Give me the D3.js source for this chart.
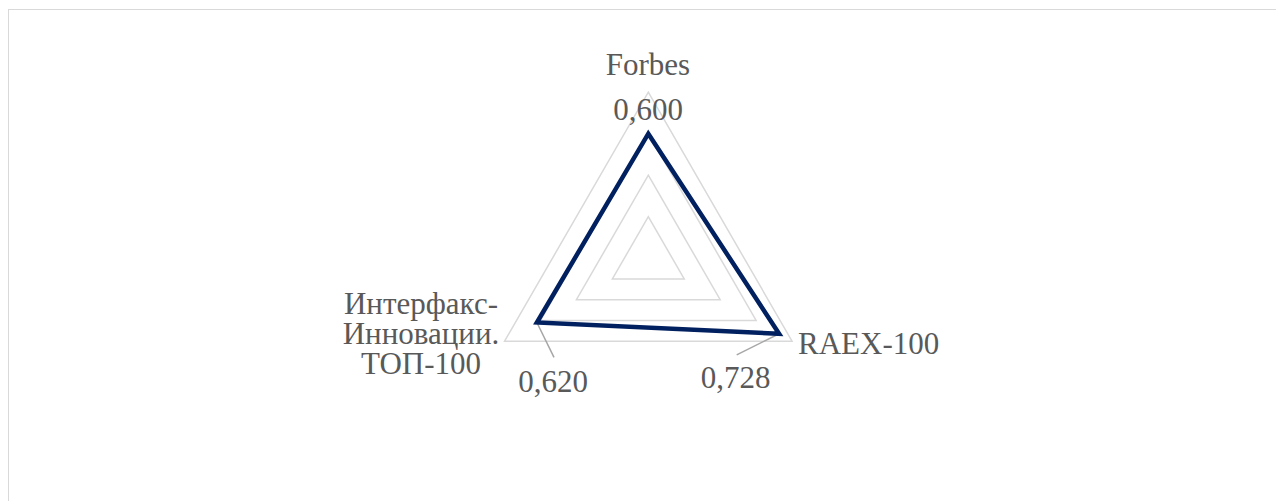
<!DOCTYPE html>
<html>
<head>
<meta charset="utf-8">
<script src="https://cdn.jsdelivr.net/npm/d3@7"></script>
<style>
    body { margin: 0; background: #fff; }
    .axis-name, .value-label { font-family: "Liberation Serif", "Times New Roman", serif; font-size: 31px; fill: #595959; }
</style>
</head>
<body>
<div id="radarChart"></div>
<script>
// Chart data
const categories = ["Forbes", "RAEX-100", "Интерфакс-Инновации. ТОП-100"];
const categoryLines = [["Forbes"], ["RAEX-100"], ["Интерфакс-", "Инновации.", "ТОП-100"]];
const values = [0.600, 0.728, 0.620];
const valueLabels = ["0,600", "0,728", "0,620"];
const gridLevels = [0.2, 0.4, 0.6, 0.8];

const width = 1276;
const height = 501;
const cx = 648.3;
const cy = 258.2;
const radius = 166;

const svg = d3.select("#radarChart")
    .append("svg")
    .attr("width", width)
    .attr("height", height);

// Chart border
svg.append("rect")
    .attr("x", 8.5)
    .attr("y", 9.5)
    .attr("width", width)
    .attr("height", height)
    .attr("fill", "none")
    .attr("stroke", "#d9d9d9")
    .attr("stroke-width", 1);

const r = d3.scaleLinear().domain([0, 0.8]).range([0, radius]);
const angle = d3.scaleLinear().domain([0, categories.length]).range([0, 2 * Math.PI]);

function point(i, v) {
    const a = angle(i);
    return [cx + r(v) * Math.sin(a), cy - r(v) * Math.cos(a)];
}

const g = svg.append("g");

// Grid triangles
gridLevels.forEach(level => {
    g.append("path")
        .attr("d", d3.line()(categories.map((c, i) => point(i, level))) + "Z")
        .attr("fill", "none")
        .attr("stroke", "#d9d9d9")
        .attr("stroke-width", 1.5);
});

// Leader lines for bottom labels
const leaderEnds = [null, [736.7, 354.8], [554, 357.3]];
leaderEnds.forEach((end, i) => {
    if (!end) return;
    const p = point(i, values[i]);
    g.append("line")
        .attr("x1", p[0]).attr("y1", p[1])
        .attr("x2", end[0]).attr("y2", end[1])
        .attr("stroke", "#a6a6a6")
        .attr("stroke-width", 1.5);
});

// Data series
g.append("path")
    .attr("d", d3.line()(values.map((v, i) => point(i, v))) + "Z")
    .attr("fill", "none")
    .attr("stroke", "#002060")
    .attr("stroke-width", 4.5)
    .attr("stroke-linejoin", "miter");

// Axis names
const namePos = [
    { x: 648, y: 75, anchor: "middle" },
    { x: 798, y: 353.5, anchor: "start" },
    { x: 421, y: 313.5, anchor: "middle" }
];
categoryLines.forEach((lines, i) => {
    const t = g.append("text")
        .attr("class", "axis-name")
        .attr("x", namePos[i].x)
        .attr("y", namePos[i].y)
        .attr("text-anchor", namePos[i].anchor);
    lines.forEach((line, k) => {
        t.append("tspan")
            .attr("x", namePos[i].x)
            .attr("dy", k === 0 ? 0 : 30)
            .text(line);
    });
});

// Value labels
const labelPos = [[648, 120], [735.7, 387.5], [553, 391.5]];
valueLabels.forEach((lbl, i) => {
    g.append("text")
        .attr("class", "value-label")
        .attr("x", labelPos[i][0])
        .attr("y", labelPos[i][1])
        .attr("text-anchor", "middle")
        .text(lbl);
});
</script>
</body>
</html>
